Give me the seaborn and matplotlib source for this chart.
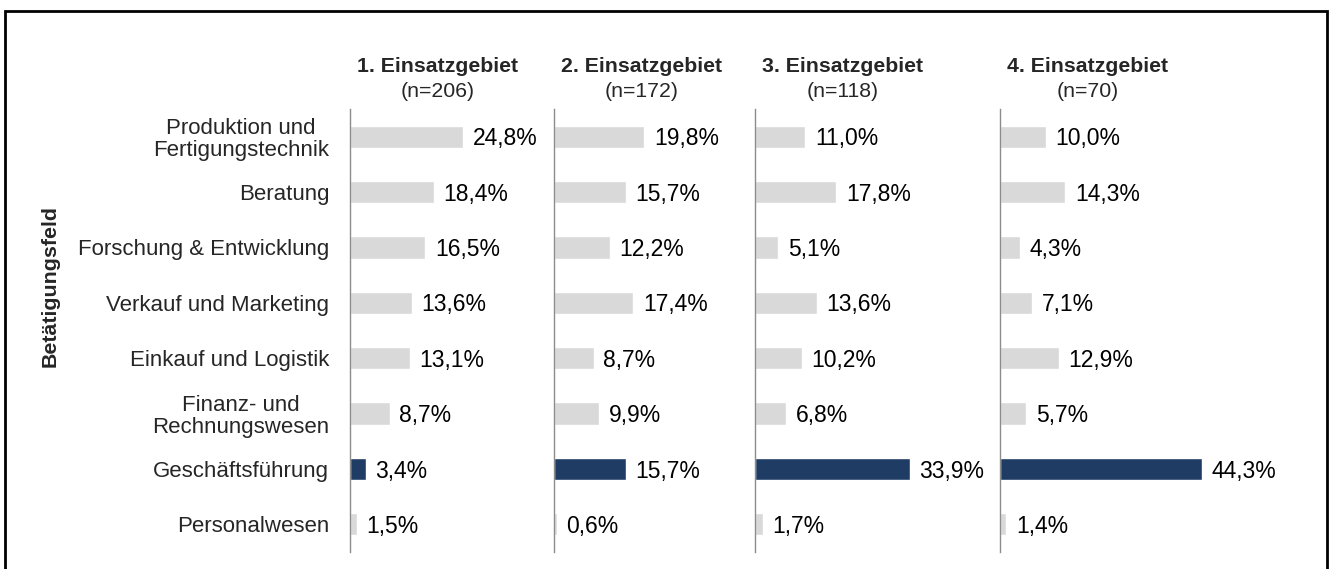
import matplotlib
matplotlib.use("Agg")
import matplotlib.pyplot as plt
import seaborn as sns
import pandas as pd
from matplotlib.patches import Rectangle

categories = [
    "Produktion und\nFertigungstechnik",
    "Beratung",
    "Forschung & Entwicklung",
    "Verkauf und Marketing",
    "Einkauf und Logistik",
    "Finanz- und\nRechnungswesen",
    "Geschäftsführung",
    "Personalwesen",
]
panel_titles = ["1. Einsatzgebiet", "2. Einsatzgebiet", "3. Einsatzgebiet", "4. Einsatzgebiet"]
panel_n = ["(n=206)", "(n=172)", "(n=118)", "(n=70)"]
gebiet1 = [24.8, 18.4, 16.5, 13.6, 13.1, 8.7, 3.4, 1.5]
gebiet2 = [19.8, 15.7, 12.2, 17.4, 8.7, 9.9, 15.7, 0.6]
gebiet3 = [11.0, 17.8, 5.1, 13.6, 10.2, 6.8, 33.9, 1.7]
gebiet4 = [10.0, 14.3, 4.3, 7.1, 12.9, 5.7, 44.3, 1.4]
highlight = "Geschäftsführung"

GRAY = "#d9d9d9"
NAVY = "#1f3d64"

sns.set_style("white")
plt.rcParams["font.family"] = ["Liberation Sans", "DejaVu Sans"]

W, H = 1329, 569
fig = plt.figure(figsize=(W / 100, H / 100), dpi=100)

# frame around the whole chart
fig.patches.append(Rectangle((5 / W, -0.05), 1322 / W, 1.05 - 11 / H,
                             transform=fig.transFigure, fill=False,
                             edgecolor="black", linewidth=2))

lefts = [350, 554, 755, 1000]
rights = [554, 755, 1000, 1320]
top_px, bottom_px = 109, 552
px_per_pct = 4.56

palette = {c: (NAVY if c == highlight else GRAY) for c in categories}

for i, vals in enumerate([gebiet1, gebiet2, gebiet3, gebiet4]):
    l, r = lefts[i], rights[i]
    ax = fig.add_axes([l / W, 1 - bottom_px / H, (r - l) / W, (bottom_px - top_px) / H])
    df = pd.DataFrame({"feld": categories, "wert": vals})
    sns.barplot(data=df, x="wert", y="feld", hue="feld", palette=palette,
                orient="h", width=0.4, saturation=1, legend=False, ax=ax)
    ax.set_xlim(0, (r - l) / px_per_pct)
    ax.set_ylim(len(categories) - 0.5, -0.5)
    for s in ["top", "right", "bottom"]:
        ax.spines[s].set_visible(False)
    ax.spines["left"].set_color("#8c8c8c")
    ax.spines["left"].set_linewidth(1)
    ax.set_xticks([])
    ax.set_xlabel("")
    ax.set_ylabel("")
    ax.tick_params(axis="y", length=0, pad=15, labelsize=16)
    if i > 0:
        ax.set_yticklabels([])
    else:
        for t in ax.get_yticklabels():
            t.set_multialignment("center")
            t.set_linespacing(1.05)
    for j, v in enumerate(vals):
        ax.annotate(f"{v:.1f}%".replace(".", ","), (v, j), xytext=(7, -1.5),
                    textcoords="offset points", va="center", ha="left",
                    fontsize=16.5, color="black")
    cx = (l + 88) / W
    fig.text(cx, 1 - 66 / H, panel_titles[i], ha="center", va="center",
             fontsize=15.3, fontweight="bold")
    fig.text(cx, 1 - 91 / H, panel_n[i], ha="center", va="center", fontsize=15.3)

fig.text(50 / W, 1 - 286 / H, "Betätigungsfeld", rotation=90, ha="center",
         va="center", fontsize=15.4, fontweight="bold")

fig.savefig("out.png", dpi=100)
